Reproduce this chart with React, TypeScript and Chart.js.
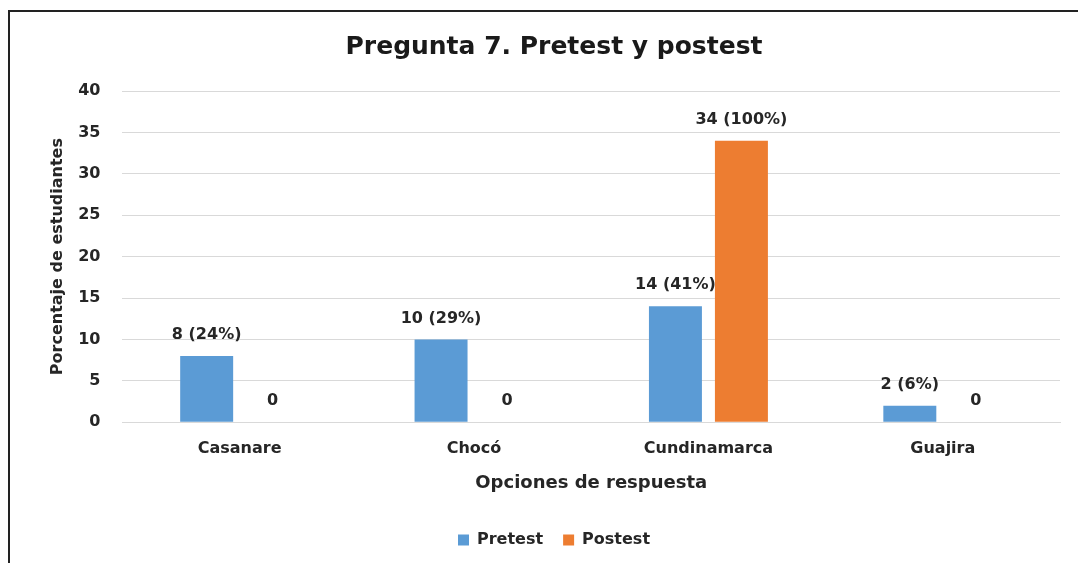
import React, { useEffect, useRef } from "react";
import { Chart, registerables } from "chart.js";

Chart.register(...registerables);

const categories = ["Casanare", "Chocó", "Cundinamarca", "Guajira"];
const pretest = [8, 10, 14, 2];
const postest = [0, 0, 34, 0];
const pretestLabels = ["8 (24%)", "10 (29%)", "14 (41%)", "2 (6%)"];
const postestLabels = ["0", "0", "34 (100%)", "0"];
const yTicks = [0, 5, 10, 15, 20, 25, 30, 35, 40];

const FONT = "'DejaVu Sans', sans-serif";

const frame = {
  id: "frame",
  beforeDraw(chart: any) {
    const ctx = chart.ctx;
    ctx.save();
    ctx.fillStyle = "#ffffff";
    ctx.fillRect(0, 0, chart.width, chart.height);
    ctx.strokeStyle = "#222222";
    ctx.lineWidth = 2;
    ctx.beginPath();
    ctx.moveTo(9, chart.height);
    ctx.lineTo(9, 11);
    ctx.lineTo(chart.width, 11);
    ctx.stroke();
    ctx.restore();
  },
};

const valueLabels = {
  id: "valueLabels",
  afterDatasetsDraw(chart: any) {
    const ctx = chart.ctx;
    const sets = [pretestLabels, postestLabels];
    ctx.save();
    ctx.font = `bold 16px ${FONT}`;
    ctx.fillStyle = "#262626";
    ctx.textAlign = "center";
    ctx.textBaseline = "middle";
    chart.data.datasets.forEach((ds: any, di: number) => {
      const meta = chart.getDatasetMeta(di);
      meta.data.forEach((el: any, i: number) => {
        ctx.fillText(sets[di][i], el.x, el.y - 21);
      });
    });
    ctx.restore();
  },
};

export default function App() {
  const ref = useRef<HTMLCanvasElement | null>(null);
  useEffect(() => {
    if (!ref.current) return;
    const chart = new Chart(ref.current, {
      type: "bar",
      data: {
        labels: categories,
        datasets: [
          {
            label: "Pretest",
            data: pretest,
            backgroundColor: "#5B9BD5",
            categoryPercentage: 0.563,
            barPercentage: 0.803,
          },
          {
            label: "Postest",
            data: postest,
            backgroundColor: "#ED7D31",
            categoryPercentage: 0.563,
            barPercentage: 0.803,
          },
        ],
      },
      options: {
        animation: false,
        responsive: false,
        maintainAspectRatio: false,
        layout: { padding: { left: 48, right: 18, top: 32, bottom: 5 } },
        plugins: {
          title: {
            display: true,
            text: "Pregunta 7. Pretest y postest",
            color: "#1a1a1a",
            font: { family: FONT, size: 25, weight: "bold" },
            padding: { top: 0, bottom: 29 },
          },
          legend: {
            position: "bottom",
            labels: {
              boxWidth: 11,
              boxHeight: 11,
              color: "#262626",
              font: { family: FONT, size: 16, weight: "bold" },
              padding: 20,
            },
          },
          tooltip: { enabled: false },
        },
        scales: {
          x: {
            grid: { display: false },
            border: { color: "#d9d9d9", width: 1 },
            ticks: {
              color: "#262626",
              font: { family: FONT, size: 16, weight: "bold" },
              padding: 9,
            },
            title: {
              display: true,
              text: "Opciones de respuesta",
              color: "#262626",
              font: { family: FONT, size: 18, weight: "bold" },
              padding: { top: 5, bottom: 18 },
            },
          },
          y: {
            min: 0,
            max: 40,
            afterBuildTicks(axis: any) {
              axis.ticks = yTicks.map((v) => ({ value: v }));
            },
            grid: { color: "#d9d9d9", drawTicks: false },
            border: { display: false },
            ticks: {
              color: "#262626",
              font: { family: FONT, size: 16, weight: "bold" },
              padding: 22,
            },
            title: {
              display: true,
              text: "Porcentaje de estudiantes",
              color: "#262626",
              font: { family: FONT, size: 16, weight: "bold" },
              padding: { top: 0, bottom: -11 },
            },
          },
        },
      },
      plugins: [frame, valueLabels],
    });
    return () => chart.destroy();
  }, []);
  return (
    <div style={{ position: "absolute", left: 0, top: 0, width: 1078, height: 563 }}>
      <canvas ref={ref} width={1078} height={563} style={{ display: "block" }} />
    </div>
  );
}
